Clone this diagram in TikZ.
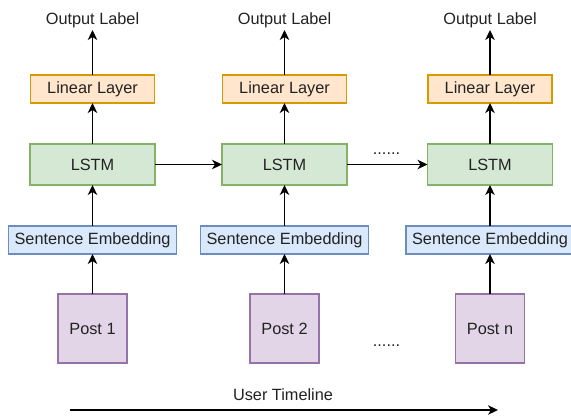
\documentclass[tikz,border=0pt]{standalone}
\usepackage{fontspec}
\setmainfont{Liberation Sans}
\usetikzlibrary{arrows.meta}
\definecolor{linfill}{HTML}{FFE6CC}\definecolor{lindraw}{HTML}{D79B00}
\definecolor{lstmfill}{HTML}{D5E8D4}\definecolor{lstmdraw}{HTML}{82B366}
\definecolor{embfill}{HTML}{DAE8FC}\definecolor{embdraw}{HTML}{6C8EBF}
\definecolor{postfill}{HTML}{E1D5E7}\definecolor{postdraw}{HTML}{9673A6}
\definecolor{txt}{HTML}{222222}
\begin{document}
\begin{tikzpicture}[x=1pt,y=-1pt,
  every node/.style={font=\fontsize{16.3}{19}\selectfont, text=txt, inner sep=0pt, outer sep=0pt},
  box/.style={rectangle, line width=1.2pt},
  linbox/.style={box, fill=linfill, draw=lindraw, minimum width=124pt, minimum height=28pt},
  lstmbox/.style={box, fill=lstmfill, draw=lstmdraw, minimum width=125pt, minimum height=41pt},
  embbox/.style={box, fill=embfill, draw=embdraw, minimum width=168pt, minimum height=28pt},
  postbox/.style={box, fill=postfill, draw=postdraw, minimum width=69pt, minimum height=69pt},
  outlabel/.style={minimum height=20pt},
  conn/.style={-{Stealth[length=10pt,width=9.5pt,inset=3pt]}, line width=1.4pt, draw=black}
]
\useasboundingbox (0,0) rectangle (571,418);
\foreach \i/\x/\p in {1/92.5/Post 1, 2/284.5/Post 2, 3/490/Post n} {
  \node[outlabel] (out\i) at (\x,20) {Output Label};
  \node[linbox] (lin\i) at (\x,89) {Linear Layer};
  \node[lstmbox] (lstm\i) at (\x,164.5) {LSTM};
  \node[embbox] (emb\i) at (\x,240) {Sentence Embedding};
  \node[postbox] (post\i) at (\x,328.5) {\p};
  \draw[conn] (post\i) -- (emb\i);
  \draw[conn] (emb\i) -- (lstm\i);
  \draw[conn] (lstm\i) -- (lin\i);
  \draw[conn] (lin\i) -- (out\i);
}
\draw[conn] (lstm1) -- (lstm2);
\draw[conn] (lstm2) -- (lstm3);
\node[anchor=base] (dotsup) at (386.5,154) {......};
\node[anchor=base] (dotslow) at (386.5,346) {......};
\node (tl) at (283,395) {User Timeline};
\coordinate (tlstart) at (70,410);
\coordinate (tlend) at (498,410);
\draw[conn] (tlstart) -- (tlend);
\end{tikzpicture}
\end{document}
